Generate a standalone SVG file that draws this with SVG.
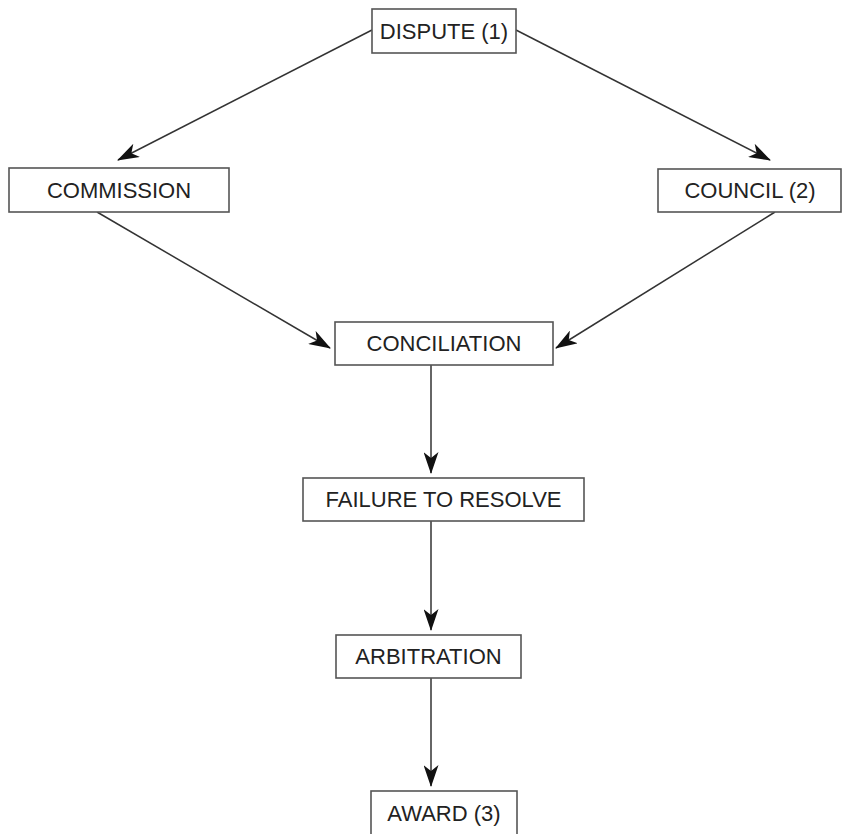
<svg xmlns="http://www.w3.org/2000/svg" width="852" height="834" viewBox="0 0 852 834">
<defs>
<style>
.box{fill:#fff;stroke:#555;stroke-width:1.6}
.lbl{font-family:"Liberation Sans",Arial,sans-serif;font-size:22px;fill:#222;text-anchor:middle}
.conn{stroke:#333;stroke-width:1.5;fill:none;marker-end:url(#ah)}
</style>
<marker id="ah" viewBox="0 0 22 15" refX="21" refY="7.5" markerWidth="22" markerHeight="15" markerUnits="userSpaceOnUse" orient="auto">
<path d="M0,0 L22,7.5 L0,15 L6,7.5 Z" fill="#111"/>
</marker>
</defs>
<rect width="852" height="834" fill="#fff"/>
<g id="connectors">
<line class="conn" x1="372" y1="30" x2="118" y2="160"/>
<line class="conn" x1="516" y1="30" x2="770" y2="160"/>
<line class="conn" x1="97" y1="212" x2="330" y2="348"/>
<line class="conn" x1="775" y1="212" x2="556" y2="348"/>
<line class="conn" x1="431" y1="365" x2="431" y2="473"/>
<line class="conn" x1="431" y1="521" x2="431" y2="630"/>
<line class="conn" x1="431" y1="678" x2="431" y2="786"/>
</g>
<g id="dispute"><rect class="box" x="372" y="9" width="144" height="44"/><text class="lbl" x="444" y="39">DISPUTE (1)</text></g>
<g id="commission"><rect class="box" x="9" y="168" width="220" height="44"/><text class="lbl" x="119" y="198">COMMISSION</text></g>
<g id="council"><rect class="box" x="658" y="169" width="183" height="43"/><text class="lbl" x="750" y="198">COUNCIL (2)</text></g>
<g id="conciliation"><rect class="box" x="335" y="322" width="218" height="43"/><text class="lbl" x="444" y="351">CONCILIATION</text></g>
<g id="failure"><rect class="box" x="303" y="478" width="281" height="43"/><text class="lbl" x="443.5" y="507">FAILURE TO RESOLVE</text></g>
<g id="arbitration"><rect class="box" x="336" y="635" width="185" height="43"/><text class="lbl" x="428.5" y="664">ARBITRATION</text></g>
<g id="award"><rect class="box" x="371" y="791" width="146" height="50"/><text class="lbl" x="444" y="821">AWARD (3)</text></g>
</svg>
